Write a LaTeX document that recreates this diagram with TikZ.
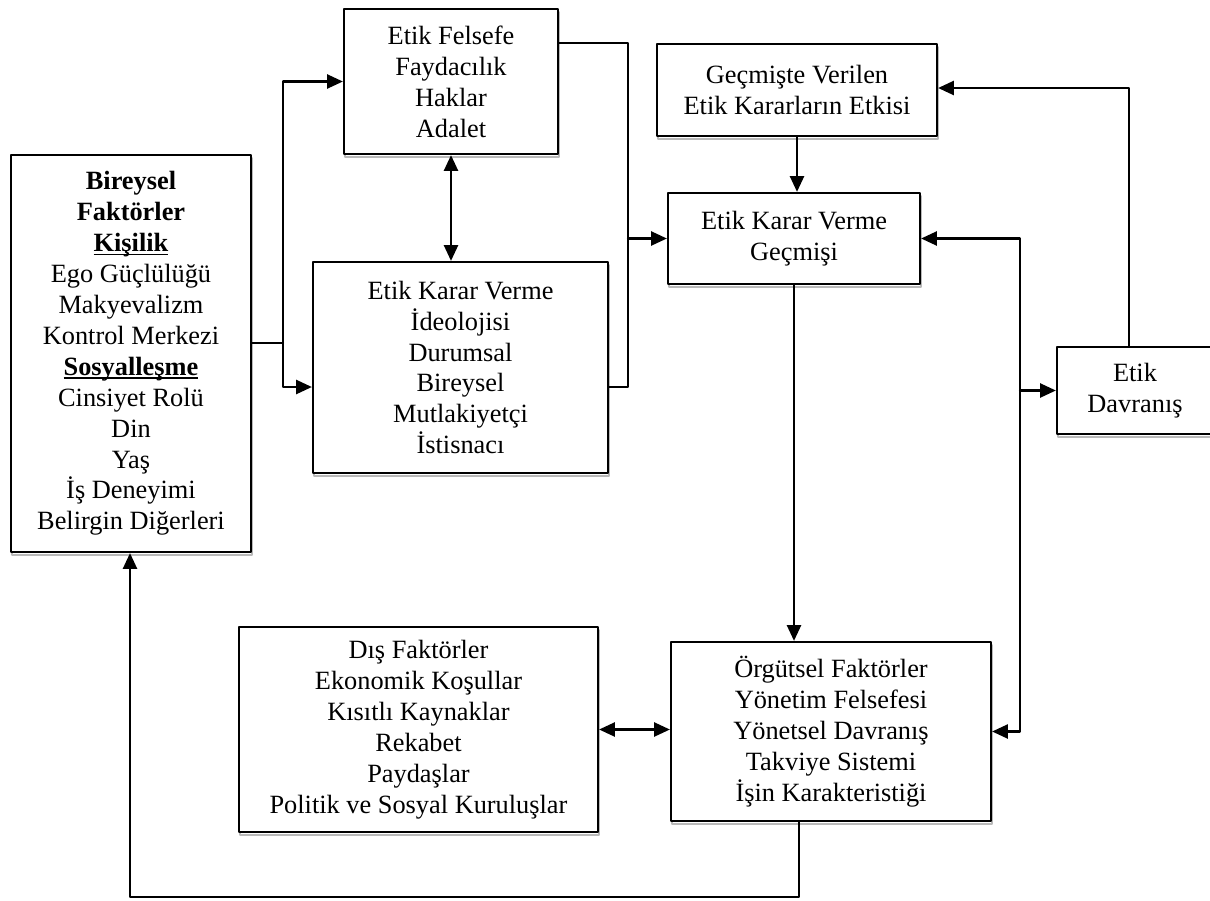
\documentclass[tikz,border=0pt]{standalone}
\usepackage{fontspec}
\setmainfont{Liberation Serif}
\usetikzlibrary{arrows.meta,shadows}
\newlength\undlw
\newcommand\undl[1]{\settowidth\undlw{#1}\rlap{\rule[-2pt]{\undlw}{0.8pt}}#1}
\begin{document}
\begin{tikzpicture}[x=0.02cm,y=-0.02cm,line cap=round,line join=round,
  box/.style={draw,line width=1.3pt,fill=white,align=center,inner sep=0pt,
    font=\fontsize{15}{17.6}\selectfont,
    copy shadow={shadow xshift=0.4pt,shadow yshift=-1.8pt,draw=gray!55,fill=white,line width=1pt}},
  arr/.style={line width=1.3pt,-{Triangle[length=9pt,width=8pt]}},
  arrs/.style={line width=1.3pt,{Triangle[length=9pt,width=8pt]}-{Triangle[length=9pt,width=8pt]}}]
  \useasboundingbox (0,0) rectangle (1210,900);
  % boxes
  \node[box,minimum width=4.8cm,minimum height=7.94cm] (bir) at (131,353.5)
    {\textbf{Bireysel}\\ \textbf{Faktörler}\\ \textbf{\undl{Kişilik}}\\ Ego Güçlülüğü\\ Makyevalizm\\
     Kontrol Merkezi\\ \textbf{\undl{Sosyalleşme}}\\ Cinsiyet Rolü\\ Din\\ Yaş\\ İş Deneyimi\\ Belirgin Diğerleri};
  \node[box,minimum width=4.28cm,minimum height=2.9cm] (fel) at (451,81.5)
    {Etik Felsefe\\ Faydacılık\\ Haklar\\ Adalet};
  \node[box,minimum width=5.9cm,minimum height=4.22cm] (ideo) at (460.5,367.5)
    {Etik Karar Verme\\ İdeolojisi\\ Durumsal\\ Bireysel\\ Mutlakiyetçi\\ İstisnacı};
  \node[box,minimum width=5.6cm,minimum height=1.84cm] (gecm) at (797,90)
    {Geçmişte Verilen\\ Etik Kararların Etkisi};
  \node[box,minimum width=5.04cm,minimum height=1.82cm] (ekvg) at (794,238.5)
    {Etik Karar Verme\\ Geçmişi};
  \node[box,minimum width=3.12cm,minimum height=1.74cm] (dav) at (1135,390.5)
    {Etik\\ Davranış};
  \node[box,minimum width=7.18cm,minimum height=4.1cm] (dis) at (418.5,729.5)
    {Dış Faktörler\\ Ekonomik Koşullar\\ Kısıtlı Kaynaklar\\ Rekabet\\ Paydaşlar\\ Politik ve Sosyal Kuruluşlar};
  \node[box,minimum width=6.4cm,minimum height=3.58cm] (org) at (831,731.5)
    {Örgütsel Faktörler\\ Yönetim Felsefesi\\ Yönetsel Davranış\\ Takviye Sistemi\\ İşin Karakteristiği};
  % joints
  \coordinate (j1) at (283,343);
  \coordinate (j2) at (283,387);
  \coordinate (j3) at (628,43);
  \coordinate (j4) at (628,387);
  \coordinate (j5) at (1129,88);
  \coordinate (rail) at (1020,390.5);
  \coordinate (j8) at (799,897);
  \coordinate (j9) at (130,897);
  % connectors
  \draw[line width=1.3pt] (bir.east |- j1) -- (j1);
  \draw[arr] (j1) |- (fel.west);
  \draw[arr] (j1) -- (j2) -- (ideo.west |- j2);
  \draw[arrs] (fel.south) -- (fel.south |- ideo.north);
  \draw[line width=1.3pt] (fel.east |- j3) -- (j3) -- (j4) -- (ideo.east |- j4);
  \draw[arr] (j3 |- ekvg) -- (ekvg.west);
  \draw[arr] (gecm.south) -- (gecm.south |- ekvg.north);
  \draw[arr] (ekvg.south) -- (ekvg.south |- org.north);
  \draw[arr] (dav.north -| j5) -- (j5) -- (gecm.east |- j5);
  \draw[arr] (rail) |- (ekvg.east);
  \draw[arr] (rail) |- (org.east);
  \draw[arr] (rail) -- (dav.west);
  \draw[arrs] (dis.east) -- (dis.east -| org.west);
  \draw[arr] (org.south -| j8) -- (j8) -- (j9) -- (bir.south -| j9);
\end{tikzpicture}
\end{document}
